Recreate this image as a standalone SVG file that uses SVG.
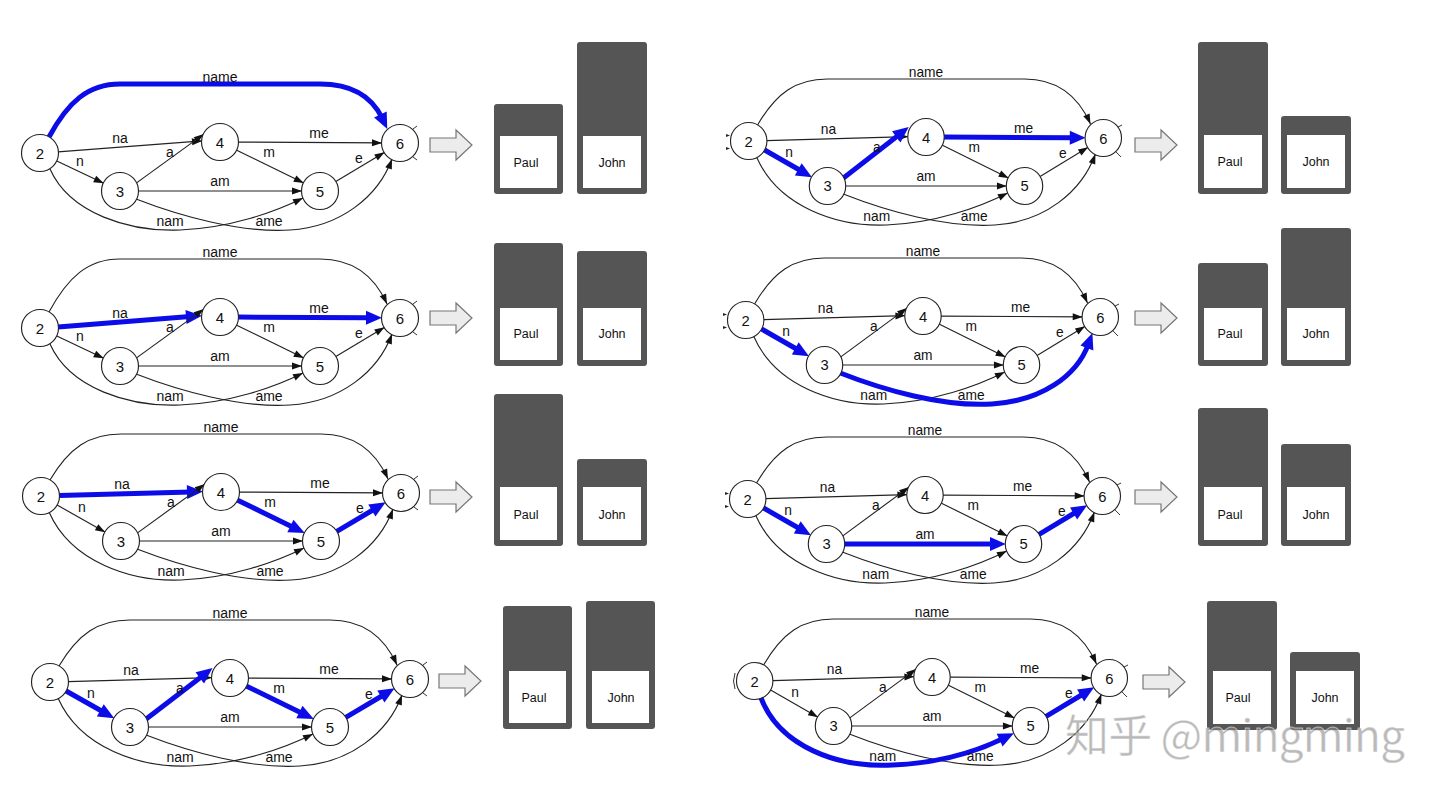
<svg xmlns="http://www.w3.org/2000/svg" width="1440" height="801" viewBox="0 0 1440 801">
<style>
.e{fill:none;stroke:#222;stroke-width:1.15;marker-end:url(#ah)}
.h{fill:none;stroke:#0c0ce8;stroke-width:5;marker-end:url(#bh)}
.st{fill:none;stroke:#333;stroke-width:1}
.nd circle{fill:#fff;stroke:#222;stroke-width:1.15}
.nd text{font-family:"Liberation Sans",Arial,sans-serif;font-size:15px;text-anchor:middle;fill:#111}
.lb{font-family:"Liberation Sans",Arial,sans-serif;font-size:14px;text-anchor:middle;fill:#111}
.bo{fill:#555}
.bi{fill:#fff}
.bt{font-family:"Liberation Sans",Arial,sans-serif;font-size:12.5px;text-anchor:middle;fill:#111}
.ar{fill:#ececec;stroke:#777;stroke-width:1.2}
.tk{fill:#222}
</style>
<defs>
<marker id="ah" markerUnits="userSpaceOnUse" markerWidth="11" markerHeight="8" refX="10" refY="4" orient="auto" overflow="visible"><path d="M0,0.5 L10,4 L0,7.5 z" fill="#111"/></marker>
<marker id="bh" markerUnits="userSpaceOnUse" markerWidth="17" markerHeight="15" refX="4" refY="7" orient="auto" overflow="visible"><path d="M0,0 L16,7 L0,14 z" fill="#0c0ce8"/></marker>
</defs>
<rect width="1440" height="801" fill="#fff"/>

<!-- PANEL 1 -->
<g id="panel1" transform="translate(220,142)">
<g id="panel1-connectors">
<path class="h" d="M-171,-5 C-152,-40 -132,-58 -100,-58 L100,-58 C132,-58 152,-45 162.1,-23.9"/>
<path class="e" d="M-162,9.9 L-18,-1.1"/>
<path class="e" d="M-163.7,18.7 L-116.3,41.3"/>
<path class="e" d="M-83.8,41.1 L-16.2,-7.9"/>
<path class="e" d="M-82,49 L82,49"/>
<path class="e" d="M16.2,7.9 L83.8,41.1"/>
<path class="e" d="M18,0.1 L162,0.9"/>
<path class="e" d="M115.4,39.7 L164.6,10.3"/>
<path class="e" d="M-170,27 C-150,72 -90,90 -40,88 C10,86 55,70 83,56"/>
<path class="e" d="M-84,57 C-40,74 20,91 70,88 C120,85 158,55 172,17"/>
<path class="st" d="M193,-13 L197,-16 M193,15 L197,18"/>
<text class="lb" x="0" y="-60">name</text><text class="lb" x="-100" y="1">na</text><text class="lb" x="-140" y="24">n</text><text class="lb" x="-50" y="15">a</text><text class="lb" x="99" y="-4">me</text><text class="lb" x="49" y="15">m</text><text class="lb" x="0" y="44">am</text><text class="lb" x="139" y="21">e</text><text class="lb" x="-50" y="84">nam</text><text class="lb" x="49" y="84">ame</text>
</g>
<g id="p1-n2" class="nd"><circle cx="-180" cy="11" r="18.5"/><text x="-180" y="16.5">2</text></g>
<g id="p1-n3" class="nd"><circle cx="-100" cy="49" r="18.5"/><text x="-100" y="54.5">3</text></g>
<g id="p1-n4" class="nd"><circle cx="0" cy="0" r="18.5"/><text x="0" y="5.5">4</text></g>
<g id="p1-n5" class="nd"><circle cx="100" cy="49" r="18.5"/><text x="100" y="54.5">5</text></g>
<g id="p1-n6" class="nd"><circle cx="180" cy="1" r="18.5"/><text x="180" y="6.5">6</text></g>
</g>
<path id="panel1-arrow" class="ar" d="M430,138 H456 V130 L472,145 L456,160 V152 H430 Z"/>
<g id="panel1-bars">
<g id="p1-paul"><rect class="bo" x="494" y="104" width="69" height="90" rx="3"/><rect class="bi" x="500" y="136" width="57" height="52"/><text class="bt" x="526" y="166.5">Paul</text></g>
<g id="p1-john"><rect class="bo" x="577" y="42" width="70" height="152" rx="3"/><rect class="bi" x="583" y="136" width="58" height="52"/><text class="bt" x="612" y="166.5">John</text></g>
</g>

<!-- PANEL 2 -->
<g id="panel2" transform="translate(220,317)">
<g id="panel2-connectors">
<path class="e" d="M-171,-5 C-152,-40 -132,-58 -100,-58 L100,-58 C132,-58 154,-42 167,-13"/>
<path class="h" d="M-162,9.9 L-30,-0.4"/>
<path class="e" d="M-163.7,18.7 L-116.3,41.3"/>
<path class="e" d="M-83.8,41.1 L-16.2,-7.9"/>
<path class="e" d="M-82,49 L82,49"/>
<path class="e" d="M16.2,7.9 L83.8,41.1"/>
<path class="h" d="M18,0.1 L150,0.8"/>
<path class="e" d="M115.4,39.7 L164.6,10.3"/>
<path class="e" d="M-170,27 C-150,72 -90,90 -40,88 C10,86 55,70 83,56"/>
<path class="e" d="M-84,57 C-40,74 20,91 70,88 C120,85 158,55 172,17"/>
<path class="st" d="M193,-13 L197,-16 M193,15 L197,18"/>
<text class="lb" x="0" y="-60">name</text><text class="lb" x="-100" y="1">na</text><text class="lb" x="-140" y="24">n</text><text class="lb" x="-50" y="15">a</text><text class="lb" x="99" y="-4">me</text><text class="lb" x="49" y="15">m</text><text class="lb" x="0" y="44">am</text><text class="lb" x="139" y="21">e</text><text class="lb" x="-50" y="84">nam</text><text class="lb" x="49" y="84">ame</text>
</g>
<g id="p2-n2" class="nd"><circle cx="-180" cy="11" r="18.5"/><text x="-180" y="16.5">2</text></g>
<g id="p2-n3" class="nd"><circle cx="-100" cy="49" r="18.5"/><text x="-100" y="54.5">3</text></g>
<g id="p2-n4" class="nd"><circle cx="0" cy="0" r="18.5"/><text x="0" y="5.5">4</text></g>
<g id="p2-n5" class="nd"><circle cx="100" cy="49" r="18.5"/><text x="100" y="54.5">5</text></g>
<g id="p2-n6" class="nd"><circle cx="180" cy="1" r="18.5"/><text x="180" y="6.5">6</text></g>
</g>
<path id="panel2-arrow" class="ar" d="M430,311 H456 V303 L472,318 L456,333 V325 H430 Z"/>
<g id="panel2-bars">
<g id="p2-paul"><rect class="bo" x="494" y="243" width="69" height="123" rx="3"/><rect class="bi" x="500" y="308" width="57" height="52"/><text class="bt" x="526" y="338">Paul</text></g>
<g id="p2-john"><rect class="bo" x="577" y="251" width="70" height="115" rx="3"/><rect class="bi" x="583" y="308" width="58" height="52"/><text class="bt" x="612" y="338">John</text></g>
</g>

<!-- PANEL 3 -->
<g id="panel3" transform="translate(221,492)">
<g id="panel3-connectors">
<path class="e" d="M-171,-12 C-152,-44 -132,-58 -100,-58 L100,-58 C132,-58 154,-42 167,-13"/>
<path class="h" d="M-162,3.6 L-30,-0.1"/>
<path class="e" d="M-164.3,12.8 L-115.7,40.2"/>
<path class="e" d="M-83.8,41.1 L-16.2,-7.9"/>
<path class="e" d="M-82,49 L82,49"/>
<path class="h" d="M16.2,7.9 L73,35.8"/>
<path class="e" d="M18,0.1 L162,0.9"/>
<path class="h" d="M115.4,39.7 L154.3,16.5"/>
<path class="e" d="M-172,20 C-150,70 -90,90 -40,88 C10,86 55,70 83,56"/>
<path class="e" d="M-84,57 C-40,74 20,91 70,88 C120,85 158,55 172,17"/>
<path class="st" d="M193,-13 L197,-16 M193,15 L197,18"/>
<text class="lb" x="0" y="-60">name</text><text class="lb" x="-99" y="-3">na</text><text class="lb" x="-139" y="20">n</text><text class="lb" x="-50" y="15">a</text><text class="lb" x="99" y="-4">me</text><text class="lb" x="49" y="15">m</text><text class="lb" x="0" y="44">am</text><text class="lb" x="139" y="21">e</text><text class="lb" x="-50" y="84">nam</text><text class="lb" x="49" y="84">ame</text>
</g>
<g id="p3-n2" class="nd"><circle cx="-180" cy="4" r="18.5"/><text x="-180" y="9.5">2</text></g>
<g id="p3-n3" class="nd"><circle cx="-100" cy="49" r="18.5"/><text x="-100" y="54.5">3</text></g>
<g id="p3-n4" class="nd"><circle cx="0" cy="0" r="18.5"/><text x="0" y="5.5">4</text></g>
<g id="p3-n5" class="nd"><circle cx="100" cy="49" r="18.5"/><text x="100" y="54.5">5</text></g>
<g id="p3-n6" class="nd"><circle cx="180" cy="1" r="18.5"/><text x="180" y="6.5">6</text></g>
</g>
<path id="panel3-arrow" class="ar" d="M430,490 H456 V482 L472,497 L456,512 V504 H430 Z"/>
<g id="panel3-bars">
<g id="p3-paul"><rect class="bo" x="494" y="394" width="69" height="152" rx="3"/><rect class="bi" x="500" y="487" width="57" height="53"/><text class="bt" x="526" y="518.5">Paul</text></g>
<g id="p3-john"><rect class="bo" x="577" y="459" width="70" height="87" rx="3"/><rect class="bi" x="583" y="487" width="58" height="53"/><text class="bt" x="612" y="518.5">John</text></g>
</g>

<!-- PANEL 4 -->
<g id="panel4" transform="translate(230,678)">
<g id="panel4-connectors">
<path class="e" d="M-171,-12 C-152,-44 -132,-58 -100,-58 L100,-58 C132,-58 154,-42 167,-13"/>
<path class="e" d="M-162,3.6 L-18,-0.4"/>
<path class="h" d="M-164.3,12.8 L-126.2,34.3"/>
<path class="h" d="M-83.8,41.1 L-27,-2.6"/>
<path class="e" d="M-82,49 L82,49"/>
<path class="h" d="M16.2,7.9 L73,35.8"/>
<path class="e" d="M18,0.1 L162,0.9"/>
<path class="h" d="M115.4,39.7 L154.3,16.5"/>
<path class="e" d="M-172,20 C-150,70 -90,90 -40,88 C10,86 55,70 83,56"/>
<path class="e" d="M-84,57 C-40,74 20,91 70,88 C120,85 158,55 172,17"/>
<path class="st" d="M193,-13 L197,-16 M193,15 L197,18"/>
<text class="lb" x="0" y="-60">name</text><text class="lb" x="-99" y="-3">na</text><text class="lb" x="-139" y="20">n</text><text class="lb" x="-50" y="15">a</text><text class="lb" x="99" y="-4">me</text><text class="lb" x="49" y="15">m</text><text class="lb" x="0" y="44">am</text><text class="lb" x="139" y="21">e</text><text class="lb" x="-50" y="84">nam</text><text class="lb" x="49" y="84">ame</text>
</g>
<g id="p4-n2" class="nd"><circle cx="-180" cy="4" r="18.5"/><text x="-180" y="9.5">2</text></g>
<g id="p4-n3" class="nd"><circle cx="-100" cy="49" r="18.5"/><text x="-100" y="54.5">3</text></g>
<g id="p4-n4" class="nd"><circle cx="0" cy="0" r="18.5"/><text x="0" y="5.5">4</text></g>
<g id="p4-n5" class="nd"><circle cx="100" cy="49" r="18.5"/><text x="100" y="54.5">5</text></g>
<g id="p4-n6" class="nd"><circle cx="180" cy="1" r="18.5"/><text x="180" y="6.5">6</text></g>
</g>
<path id="panel4-arrow" class="ar" d="M439,674 H465 V666 L481,681 L465,696 V688 H439 Z"/>
<g id="panel4-bars">
<g id="p4-paul"><rect class="bo" x="503" y="606" width="69" height="123" rx="3"/><rect class="bi" x="509" y="671" width="57" height="52"/><text class="bt" x="534" y="701.5">Paul</text></g>
<g id="p4-john"><rect class="bo" x="586" y="601" width="69" height="128" rx="3"/><rect class="bi" x="592" y="671" width="57" height="52"/><text class="bt" x="621" y="701.5">John</text></g>
</g>

<!-- PANEL 5 -->
<g id="panel5" transform="translate(926,137) scale(0.985,1)">
<g id="panel5-connectors">
<path class="e" d="M-171,-12 C-152,-44 -132,-58 -100,-58 L100,-58 C132,-58 154,-42 167,-13"/>
<path class="e" d="M-162,3.6 L-18,-0.4"/>
<path class="h" d="M-164.3,12.8 L-126.2,34.3"/>
<path class="h" d="M-83.8,41.1 L-27,-2.6"/>
<path class="e" d="M-82,49 L82,49"/>
<path class="e" d="M16.2,7.9 L83.8,41.1"/>
<path class="h" d="M18,0.1 L150,0.8"/>
<path class="e" d="M115.4,39.7 L164.6,10.3"/>
<path class="e" d="M-172,20 C-150,70 -90,90 -40,88 C10,86 55,70 83,56"/>
<path class="e" d="M-84,57 C-40,74 20,91 70,88 C120,85 158,55 172,17"/>
<path class="st" d="M191,-8 L199,-12 M193,1 L199,1 M191,13 L198,20"/>
<path class="tk" d="M-203,-3 L-199,-1.5 L-203,0 Z M-203,10 L-199,11.5 L-203,13 Z"/>
<text class="lb" x="0" y="-60">name</text><text class="lb" x="-99" y="-3">na</text><text class="lb" x="-139" y="20">n</text><text class="lb" x="-50" y="15">a</text><text class="lb" x="99" y="-4">me</text><text class="lb" x="49" y="15">m</text><text class="lb" x="0" y="44">am</text><text class="lb" x="139" y="21">e</text><text class="lb" x="-50" y="84">nam</text><text class="lb" x="49" y="84">ame</text>
</g>
<g id="p5-n2" class="nd"><circle cx="-180" cy="4" r="18.5"/><text x="-180" y="9.5">2</text></g>
<g id="p5-n3" class="nd"><circle cx="-100" cy="49" r="18.5"/><text x="-100" y="54.5">3</text></g>
<g id="p5-n4" class="nd"><circle cx="0" cy="0" r="18.5"/><text x="0" y="5.5">4</text></g>
<g id="p5-n5" class="nd"><circle cx="100" cy="49" r="18.5"/><text x="100" y="54.5">5</text></g>
<g id="p5-n6" class="nd"><circle cx="180" cy="1" r="18.5"/><text x="180" y="6.5">6</text></g>
</g>
<path id="panel5-arrow" class="ar" d="M1135,138 H1161 V130 L1177,145 L1161,160 V152 H1135 Z"/>
<g id="panel5-bars">
<g id="p5-paul"><rect class="bo" x="1198" y="42" width="70" height="152" rx="3"/><rect class="bi" x="1204" y="135" width="58" height="53"/><text class="bt" x="1230" y="166">Paul</text></g>
<g id="p5-john"><rect class="bo" x="1281" y="116" width="70" height="78" rx="3"/><rect class="bi" x="1287" y="135" width="58" height="53"/><text class="bt" x="1316" y="166">John</text></g>
</g>

<!-- PANEL 6 -->
<g id="panel6" transform="translate(923,316) scale(0.985,1)">
<g id="panel6-connectors">
<path class="e" d="M-171,-12 C-152,-44 -132,-58 -100,-58 L100,-58 C132,-58 154,-42 167,-13"/>
<path class="e" d="M-162,3.6 L-18,-0.4"/>
<path class="h" d="M-164.3,12.8 L-126.2,34.3"/>
<path class="e" d="M-83.8,41.1 L-16.2,-7.9"/>
<path class="e" d="M-82,49 L82,49"/>
<path class="e" d="M16.2,7.9 L83.8,41.1"/>
<path class="e" d="M18,0.1 L162,0.9"/>
<path class="e" d="M115.4,39.7 L164.6,10.3"/>
<path class="e" d="M-172,20 C-150,70 -90,90 -40,88 C10,86 55,70 83,56"/>
<path class="h" d="M-84,57 C-40,74 20,91 70,88 C120,85 156,60 167.8,28.3"/>
<path class="st" d="M191,-8 L199,-12 M193,1 L199,1 M191,13 L198,20"/>
<path class="tk" d="M-203,-3 L-199,-1.5 L-203,0 Z M-203,10 L-199,11.5 L-203,13 Z"/>
<text class="lb" x="0" y="-60">name</text><text class="lb" x="-99" y="-3">na</text><text class="lb" x="-139" y="20">n</text><text class="lb" x="-50" y="15">a</text><text class="lb" x="99" y="-4">me</text><text class="lb" x="49" y="15">m</text><text class="lb" x="0" y="44">am</text><text class="lb" x="139" y="21">e</text><text class="lb" x="-50" y="84">nam</text><text class="lb" x="49" y="84">ame</text>
</g>
<g id="p6-n2" class="nd"><circle cx="-180" cy="4" r="18.5"/><text x="-180" y="9.5">2</text></g>
<g id="p6-n3" class="nd"><circle cx="-100" cy="49" r="18.5"/><text x="-100" y="54.5">3</text></g>
<g id="p6-n4" class="nd"><circle cx="0" cy="0" r="18.5"/><text x="0" y="5.5">4</text></g>
<g id="p6-n5" class="nd"><circle cx="100" cy="49" r="18.5"/><text x="100" y="54.5">5</text></g>
<g id="p6-n6" class="nd"><circle cx="180" cy="1" r="18.5"/><text x="180" y="6.5">6</text></g>
</g>
<path id="panel6-arrow" class="ar" d="M1135,311 H1161 V303 L1177,318 L1161,333 V325 H1135 Z"/>
<g id="panel6-bars">
<g id="p6-paul"><rect class="bo" x="1198" y="263" width="70" height="103" rx="3"/><rect class="bi" x="1204" y="308" width="58" height="52"/><text class="bt" x="1230" y="338">Paul</text></g>
<g id="p6-john"><rect class="bo" x="1281" y="228" width="70" height="138" rx="3"/><rect class="bi" x="1287" y="308" width="58" height="52"/><text class="bt" x="1316" y="338">John</text></g>
</g>

<!-- PANEL 7 -->
<g id="panel7" transform="translate(925,495) scale(0.985,1)">
<g id="panel7-connectors">
<path class="e" d="M-171,-12 C-152,-44 -132,-58 -100,-58 L100,-58 C132,-58 154,-42 167,-13"/>
<path class="e" d="M-162,3.6 L-18,-0.4"/>
<path class="h" d="M-164.3,12.8 L-126.2,34.3"/>
<path class="e" d="M-83.8,41.1 L-16.2,-7.9"/>
<path class="h" d="M-82,49 L70,49"/>
<path class="e" d="M16.2,7.9 L83.8,41.1"/>
<path class="e" d="M18,0.1 L162,0.9"/>
<path class="h" d="M115.4,39.7 L154.3,16.5"/>
<path class="e" d="M-172,20 C-150,70 -90,90 -40,88 C10,86 55,70 83,56"/>
<path class="e" d="M-84,57 C-40,74 20,91 70,88 C120,85 158,55 172,17"/>
<path class="st" d="M191,-8 L199,-12 M193,1 L199,1 M191,13 L198,20"/>
<path class="tk" d="M-203,-3 L-199,-1.5 L-203,0 Z M-203,10 L-199,11.5 L-203,13 Z"/>
<text class="lb" x="0" y="-60">name</text><text class="lb" x="-99" y="-3">na</text><text class="lb" x="-139" y="20">n</text><text class="lb" x="-50" y="15">a</text><text class="lb" x="99" y="-4">me</text><text class="lb" x="49" y="15">m</text><text class="lb" x="0" y="44">am</text><text class="lb" x="139" y="21">e</text><text class="lb" x="-50" y="84">nam</text><text class="lb" x="49" y="84">ame</text>
</g>
<g id="p7-n2" class="nd"><circle cx="-180" cy="4" r="18.5"/><text x="-180" y="9.5">2</text></g>
<g id="p7-n3" class="nd"><circle cx="-100" cy="49" r="18.5"/><text x="-100" y="54.5">3</text></g>
<g id="p7-n4" class="nd"><circle cx="0" cy="0" r="18.5"/><text x="0" y="5.5">4</text></g>
<g id="p7-n5" class="nd"><circle cx="100" cy="49" r="18.5"/><text x="100" y="54.5">5</text></g>
<g id="p7-n6" class="nd"><circle cx="180" cy="1" r="18.5"/><text x="180" y="6.5">6</text></g>
</g>
<path id="panel7-arrow" class="ar" d="M1135,490 H1161 V482 L1177,497 L1161,512 V504 H1135 Z"/>
<g id="panel7-bars">
<g id="p7-paul"><rect class="bo" x="1198" y="408" width="70" height="138" rx="3"/><rect class="bi" x="1204" y="487" width="58" height="53"/><text class="bt" x="1230" y="518.5">Paul</text></g>
<g id="p7-john"><rect class="bo" x="1281" y="444" width="70" height="102" rx="3"/><rect class="bi" x="1287" y="487" width="58" height="53"/><text class="bt" x="1316" y="518.5">John</text></g>
</g>

<!-- PANEL 8 -->
<g id="panel8" transform="translate(932,677) scale(0.985,1)">
<g id="panel8-connectors">
<path class="e" d="M-171,-12 C-152,-44 -132,-58 -100,-58 L100,-58 C132,-58 154,-42 167,-13"/>
<path class="e" d="M-162,3.6 L-18,-0.4"/>
<path class="e" d="M-164.3,12.8 L-115.7,40.2"/>
<path class="e" d="M-83.8,41.1 L-16.2,-7.9"/>
<path class="e" d="M-82,49 L82,49"/>
<path class="e" d="M16.2,7.9 L83.8,41.1"/>
<path class="e" d="M18,0.1 L162,0.9"/>
<path class="h" d="M115.4,39.7 L154.3,16.5"/>
<path class="e" d="M-84,57 C-40,74 20,91 70,88 C120,85 158,55 172,17"/>
<path class="h" d="M-174,20 C-155,70 -95,91 -40,88 C10,86 48,73 72.3,61.4"/>
<path class="st" d="M191,-8 L199,-12 M193,1 L199,1 M191,13 L198,20"/>
<path class="st" d="M-200,-4 Q-203,4 -200,12"/>
<text class="lb" x="0" y="-60">name</text><text class="lb" x="-99" y="-3">na</text><text class="lb" x="-139" y="20">n</text><text class="lb" x="-50" y="15">a</text><text class="lb" x="99" y="-4">me</text><text class="lb" x="49" y="15">m</text><text class="lb" x="0" y="44">am</text><text class="lb" x="139" y="21">e</text><text class="lb" x="-50" y="84">nam</text><text class="lb" x="49" y="84">ame</text>
</g>
<g id="p8-n2" class="nd"><circle cx="-180" cy="4" r="18.5"/><text x="-180" y="9.5">2</text></g>
<g id="p8-n3" class="nd"><circle cx="-100" cy="49" r="18.5"/><text x="-100" y="54.5">3</text></g>
<g id="p8-n4" class="nd"><circle cx="0" cy="0" r="18.5"/><text x="0" y="5.5">4</text></g>
<g id="p8-n5" class="nd"><circle cx="100" cy="49" r="18.5"/><text x="100" y="54.5">5</text></g>
<g id="p8-n6" class="nd"><circle cx="180" cy="1" r="18.5"/><text x="180" y="6.5">6</text></g>
</g>
<path id="panel8-arrow" class="ar" d="M1143,675 H1169 V667 L1185,682 L1169,697 V689 H1143 Z"/>
<g id="panel8-bars">
<g id="p8-paul"><rect class="bo" x="1207" y="601" width="70" height="129" rx="3"/><rect class="bi" x="1213" y="671" width="58" height="53"/><text class="bt" x="1238" y="702">Paul</text></g>
<g id="p8-john"><rect class="bo" x="1290" y="652" width="70" height="78" rx="3"/><rect class="bi" x="1296" y="671" width="58" height="53"/><text class="bt" x="1325" y="702">John</text></g>
</g>

<text id="watermark" x="1065" y="752" textLength="340" font-family="'Noto Sans CJK SC','Liberation Sans',sans-serif" font-size="44" fill="#8a8a8a" fill-opacity="0.6" stroke="#fff" stroke-opacity="0.5" stroke-width="1">知乎 @mingming</text>
</svg>
